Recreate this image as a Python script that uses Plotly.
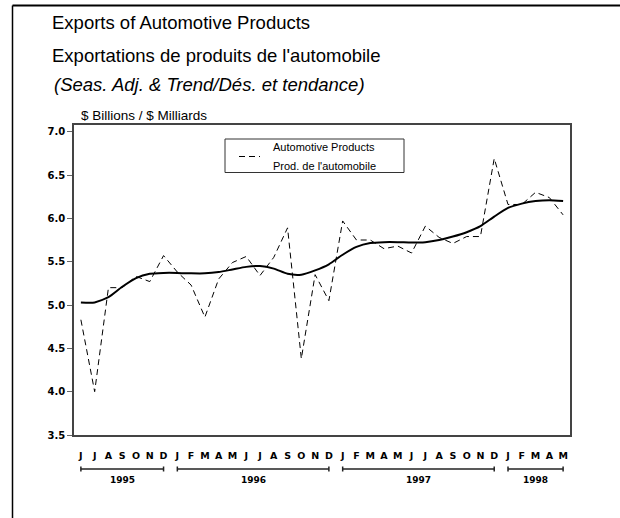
import plotly.graph_objects as go

# ---- data ----
months = ["J", "J", "A", "S", "O", "N", "D",
          "J", "F", "M", "A", "M", "J", "J", "A", "S", "O", "N", "D",
          "J", "F", "M", "A", "M", "J", "J", "A", "S", "O", "N", "D",
          "J", "F", "M", "A", "M"]
years = [1995] * 7 + [1996] * 12 + [1997] * 12 + [1998] * 5

seas_adj = [4.83, 4.00, 5.20, 5.20, 5.33, 5.27, 5.57,
            5.38, 5.23, 4.86, 5.30, 5.49, 5.56, 5.34, 5.55, 5.89, 4.38, 5.35, 5.05,
            5.97, 5.75, 5.75, 5.65, 5.68, 5.60, 5.91, 5.78, 5.71, 5.79, 5.79, 6.69,
            6.16, 6.16, 6.30, 6.24, 6.04]
trend = [5.03, 5.03, 5.09, 5.21, 5.31, 5.36, 5.37,
         5.37, 5.365, 5.365, 5.38, 5.41, 5.44, 5.45, 5.42, 5.36, 5.35, 5.40, 5.47,
         5.58, 5.67, 5.715, 5.725, 5.725, 5.72, 5.725, 5.75, 5.79, 5.84, 5.91, 6.02,
         6.12, 6.17, 6.20, 6.21, 6.20]

y_ticks = [3.5, 4.0, 4.5, 5.0, 5.5, 6.0, 6.5, 7.0]
legend_lines = ["Automotive Products", "Prod. de l'automobile"]
title_lines = ["Exports of Automotive Products",
               "Exportations de produits de l'automobile"]
subtitle = "(Seas. Adj. & Trend/Dés. et tendance)"
unit_label = "$ Billions / $ Milliards"

# ---- figure ----
idx = list(range(len(months)))
TXT = "Liberation Sans, Arial, sans-serif"
BOLD = "DejaVu Sans, Verdana, sans-serif"
DASH = "6px,4px"

fig = go.Figure()
fig.add_trace(go.Scatter(
    x=idx, y=seas_adj, mode="lines",
    line=dict(color="black", width=1, dash=DASH),
    name=" / ".join(legend_lines), showlegend=False,
))
fig.add_trace(go.Scatter(
    x=idx, y=trend, mode="lines",
    line=dict(color="black", width=2, shape="spline", smoothing=0.6),
    showlegend=False, name="Trend",
))

L, R, T, B = 74, 50, 125, 83
W, H = 620, 518
PW, PH = W - L - R, H - T - B


def px(xp):
    return (xp - L) / PW


def py(yp):
    return (T + PH - yp) / PH


shapes = []
annotations = []

# year brackets and labels
for yr in sorted(set(years)):
    pos = [i for i, y in enumerate(years) if y == yr]
    a, b = pos[0], pos[-1]
    shapes.append(dict(type="line", xref="x", yref="paper", x0=a, x1=b,
                       y0=py(469), y1=py(469), line=dict(color="#222", width=1.5)))
    for e in (a, b):
        shapes.append(dict(type="line", xref="x", yref="paper", x0=e, x1=e,
                           y0=py(466.5), y1=py(471.5), line=dict(color="#222", width=1.5)))
    annotations.append(dict(text=str(yr), xref="x", yref="paper", x=(a + b) / 2, y=py(479.5),
                            showarrow=False, font=dict(family=BOLD, size=9, color="black", weight="bold"),
                            xanchor="center", yanchor="middle"))

# outer frame (top and left)
shapes.append(dict(type="line", xref="paper", yref="paper", x0=px(12.5), x1=px(620),
                   y0=py(5.5), y1=py(5.5), line=dict(color="black", width=2)))
shapes.append(dict(type="line", xref="paper", yref="paper", x0=px(12.5), x1=px(12.5),
                   y0=py(5.5), y1=py(518), line=dict(color="black", width=1.5)))

# legend box (framed key for the dashed series)
shapes.append(dict(type="rect", xref="paper", yref="paper", x0=px(225), x1=px(404),
                   y0=py(172.5), y1=py(139), line=dict(color="#333", width=1), fillcolor="white",
                   layer="above"))
shapes.append(dict(type="line", xref="paper", yref="paper", x0=px(239), x1=px(260),
                   y0=py(156.5), y1=py(156.5), line=dict(color="black", width=1, dash=DASH),
                   layer="above"))

text_ann = [
    dict(text=title_lines[0], x=px(50), y=py(22), font=dict(family=TXT, size=18.5, color="black")),
    dict(text=title_lines[1], x=px(50), y=py(55), font=dict(family=TXT, size=18.5, color="black")),
    dict(text="<i>" + subtitle + "</i>", x=px(52), y=py(85), font=dict(family=TXT, size=18.5, color="black")),
    dict(text=unit_label, x=px(79), y=py(115), font=dict(family=TXT, size=13.5, color="black")),
    dict(text=legend_lines[0], x=px(271), y=py(147), font=dict(family=TXT, size=11, color="black")),
    dict(text=legend_lines[1], x=px(271), y=py(165.5), font=dict(family=TXT, size=11, color="black")),
]
for a in text_ann:
    a.update(xref="paper", yref="paper", showarrow=False, xanchor="left", yanchor="middle")
annotations += text_ann

fig.update_layout(
    width=W, height=H,
    margin=dict(l=L, r=R, t=T, b=B, pad=0),
    paper_bgcolor="white", plot_bgcolor="white",
    showlegend=False,
    shapes=shapes, annotations=annotations,
    xaxis=dict(range=[-0.5, len(months) - 0.5], tickmode="array", tickvals=idx, ticktext=months,
               tickfont=dict(family=BOLD, size=9.5, color="black", weight="bold"),
               ticks="", showline=True, mirror=True, linecolor="#444", linewidth=1.5,
               showgrid=False, zeroline=False, tickangle=0, ticklabelstandoff=11),
    yaxis=dict(range=[3.5, 7.077], tickmode="array", tickvals=y_ticks, tickformat=".1f",
               ticks="outside", ticklen=5, tickcolor="#666", tickwidth=1,
               tickfont=dict(family=BOLD, size=10, color="black", weight="bold"),
               showline=True, mirror=True, linecolor="#444", linewidth=1.5,
               showgrid=False, zeroline=False),
)

fig.write_html("out.html", config={"displayModeBar": False},
               post_script="document.body.style.margin='0px';")
